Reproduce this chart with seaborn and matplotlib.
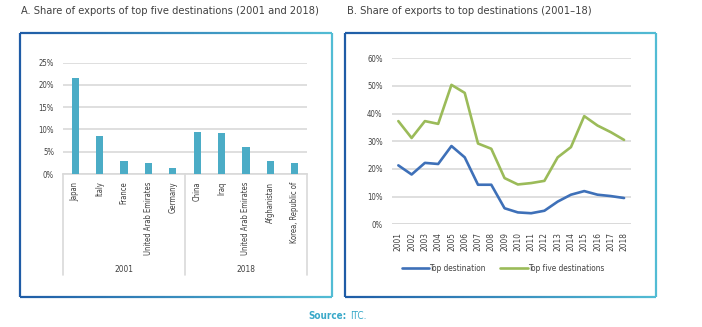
import numpy as np
import pandas as pd
import matplotlib
matplotlib.use("Agg")
import matplotlib.pyplot as plt
import matplotlib.transforms as mtransforms
from matplotlib.collections import LineCollection
from matplotlib.colors import to_rgb
from matplotlib import font_manager
import seaborn as sns

# ---- data -------------------------------------------------------------
years_a = ["2001", "2018"]
countries_2001 = ["Japan", "Italy", "France", "United Arab Emirates", "Germany"]
shares_2001 = [21.5, 8.6, 3.0, 2.4, 1.35]
countries_2018 = ["China", "Iraq", "United Arab Emirates", "Afghanistan", "Korea, Republic of"]
shares_2018 = [9.4, 9.1, 6.1, 3.0, 2.5]

years_b = list(range(2001, 2019))
top_destination = [21.3, 18.0, 22.2, 21.8, 28.3, 24.2, 14.3, 14.3, 5.8, 4.3,
                   4.0, 4.9, 8.2, 10.7, 12.0, 10.7, 10.2, 9.5]
top_five = [37.3, 31.2, 37.3, 36.3, 50.4, 47.5, 29.2, 27.3, 16.7, 14.4,
            14.9, 15.7, 24.2, 27.9, 39.1, 35.7, 33.3, 30.5]

# ---- style ------------------------------------------------------------
sns.set_style("white")

# prefer a narrow sans face when one is installed
narrow = None
for f in font_manager.fontManager.ttflist:
    nm = f.name.lower()
    if f.weight in (400, "normal", "regular") and (
            "narrow" in nm or "condensed" in nm or
            str(f.stretch) in ("condensed", "semi-condensed", "extra-condensed")):
        if any(k in nm for k in ("liberation", "noto sans", "roboto", "open sans", "dejavu")):
            narrow = f
            if "semi" not in str(f.stretch) and "semi" not in nm:
                break
if narrow is not None:
    plt.rcParams["font.family"] = [narrow.name, "Liberation Sans", "DejaVu Sans"]
    plt.rcParams["font.stretch"] = narrow.stretch
else:
    plt.rcParams["font.family"] = ["Liberation Sans", "DejaVu Sans"]

TEXT = "#404040"
GRID = "#D9D9D9"
BAR = "#4BACC6"
BLUE = "#3E70B8"
GREEN = "#9BBB59"
SOURCE = "#3AA9C9"

W, H = 702, 327
fig = plt.figure(figsize=(W / 100, H / 100), dpi=100)
renderer = fig.canvas.get_renderer()


def fit_size(text, target_px, ref=10.0, **kw):
    """Font size (pt) that gives `text` the requested width in pixels."""
    t = fig.text(0, 0, text, fontsize=ref, **kw)
    w = t.get_window_extent(renderer).width
    t.remove()
    return ref * target_px / w


TITLE_FS = min(fit_size("A. Share of exports of top five destinations (2001 and 2018)", 299), 9.5)
CAT_FS = min(fit_size("United Arab Emirates", 74), 7.5)
TICK_FS = min(fit_size("Top five destinations", 76), 8.0)
SRC_FS = min(fit_size("Source:", 38, weight="bold"), 8.5)


def rect(x0, y0, x1, y1):
    """Pixel box (top-left origin) -> figure fraction rect."""
    return [x0 / W, 1 - y1 / H, (x1 - x0) / W, (y1 - y0) / H]


def gradient_box(x0, y0, x1, y1, c_left, c_right, lw=1.6, n=120):
    cl, cr = np.array(to_rgb(c_left)), np.array(to_rgb(c_right))
    segs, cols = [], []
    xs = np.linspace(x0, x1, n + 1)
    for i in range(n):
        t = (xs[i] + xs[i + 1]) / 2
        c = cl + (cr - cl) * (t - x0) / (x1 - x0)
        for y in (y0, y1):
            segs.append([(xs[i] / W, 1 - y / H), (xs[i + 1] / W, 1 - y / H)])
            cols.append(c)
    segs.append([(x0 / W, 1 - y0 / H), (x0 / W, 1 - y1 / H)])
    cols.append(cl)
    segs.append([(x1 / W, 1 - y0 / H), (x1 / W, 1 - y1 / H)])
    cols.append(cr)
    lc = LineCollection(segs, colors=cols, linewidths=lw, transform=fig.transFigure)
    fig.add_artist(lc)


gradient_box(20, 32.5, 331.5, 296.5, "#1F5CA6", "#52BCD4")
gradient_box(345, 32.5, 656, 296.5, "#1F5CA6", "#52BCD4")

fig.text(21 / W, 1 - 10.5 / H, "A. Share of exports of top five destinations (2001 and 2018)",
         fontsize=TITLE_FS, color=TEXT, va="center", ha="left")
fig.text(347 / W, 1 - 10.5 / H, "B. Share of exports to top destinations (2001\u201318)",
         fontsize=TITLE_FS, color=TEXT, va="center", ha="left")

# ---- panel A: grouped bar chart ---------------------------------------
df_a = pd.DataFrame({
    "slot": [f"{years_a[0]}|{c}" for c in countries_2001] + [f"{years_a[1]}|{c}" for c in countries_2018],
    "share": shares_2001 + shares_2018,
})
ax1 = fig.add_axes(rect(63, 62.7, 307, 174))
sns.barplot(data=df_a, x="slot", y="share", color=BAR, width=0.3,
            saturation=1, ax=ax1, zorder=3, linewidth=0)
ax1.set_ylim(0, 25)
ax1.set_xlim(-0.5, 9.5)
ax1.set_yticks(np.arange(0, 26, 5))
ax1.set_yticklabels([f"{v}%" for v in range(0, 26, 5)])
ax1.set_xticks(range(10))
ax1.set_xticklabels(countries_2001 + countries_2018, rotation=90, va="top")
ax1.set_xlabel("")
ax1.set_ylabel("")
ax1.tick_params(axis="both", length=0, labelsize=TICK_FS * 0.95, colors=TEXT)
ax1.tick_params(axis="x", labelsize=CAT_FS, pad=5.5)
ax1.tick_params(axis="y", pad=6.5)
ax1.grid(axis="y", color=GRID, lw=1.2, zorder=0)
for s in ("top", "right", "left"):
    ax1.spines[s].set_visible(False)
ax1.spines["bottom"].set_color(GRID)
ax1.spines["bottom"].set_linewidth(1.2)

trans = mtransforms.blended_transform_factory(ax1.transData, ax1.transAxes)
for xsep in (-0.5, 4.5, 9.5):
    ax1.plot([xsep, xsep], [0, -0.907], transform=trans, color=GRID, lw=1.2,
             clip_on=False)
for xc, lab in ((2, years_a[0]), (7, years_a[1])):
    ax1.text(xc, -0.854, lab, transform=trans, ha="center", va="center",
             fontsize=TICK_FS, color=TEXT)

# ---- panel B: line chart ----------------------------------------------
df_b = pd.DataFrame({
    "year": [str(y) for y in years_b] * 2,
    "share": top_destination + top_five,
    "series": ["Top destination"] * len(years_b) + ["Top five destinations"] * len(years_b),
})
ax2 = fig.add_axes(rect(391.7, 58.3, 630.7, 224.3))
sns.lineplot(data=df_b, x="year", y="share", hue="series",
             palette={"Top destination": BLUE, "Top five destinations": GREEN},
             lw=1.9, ax=ax2, sort=False)
ax2.set_ylim(0, 60)
ax2.set_xlim(-0.5, len(years_b) - 0.5)
ax2.set_yticks(np.arange(0, 61, 10))
ax2.set_yticklabels([f"{v}%" for v in range(0, 61, 10)])
ax2.set_xticks(range(len(years_b)))
ax2.set_xticklabels([str(y) for y in years_b], rotation=90, va="top")
ax2.set_xlabel("")
ax2.set_ylabel("")
ax2.tick_params(axis="both", length=0, labelsize=TICK_FS, colors=TEXT)
ax2.tick_params(axis="y", labelsize=TICK_FS * 0.95, pad=6.5)
ax2.tick_params(axis="x", pad=5.5)
ax2.grid(axis="y", color=GRID, lw=1.2, zorder=0)
ax2.set_axisbelow(True)
for s in ("top", "right", "left", "bottom"):
    ax2.spines[s].set_visible(False)
ax2.axhline(0, color=GRID, lw=1.2, zorder=1)

ax2.legend(loc="center", bbox_to_anchor=((503 - 391.7) / 239, (224.3 - 268.5) / 166),
           ncol=2, frameon=False, fontsize=TICK_FS, handlelength=3.3,
           handletextpad=0.05, columnspacing=1.8, labelcolor=TEXT)

# ---- source line -------------------------------------------------------
fig.text(347 / W, 1 - 316 / H, "Source:", fontsize=SRC_FS, color=SOURCE,
         fontweight="bold", ha="right", va="center")
fig.text(350 / W, 1 - 316 / H, "ITC.", fontsize=SRC_FS, color=SOURCE,
         ha="left", va="center")

fig.savefig("out.png", dpi=100)
